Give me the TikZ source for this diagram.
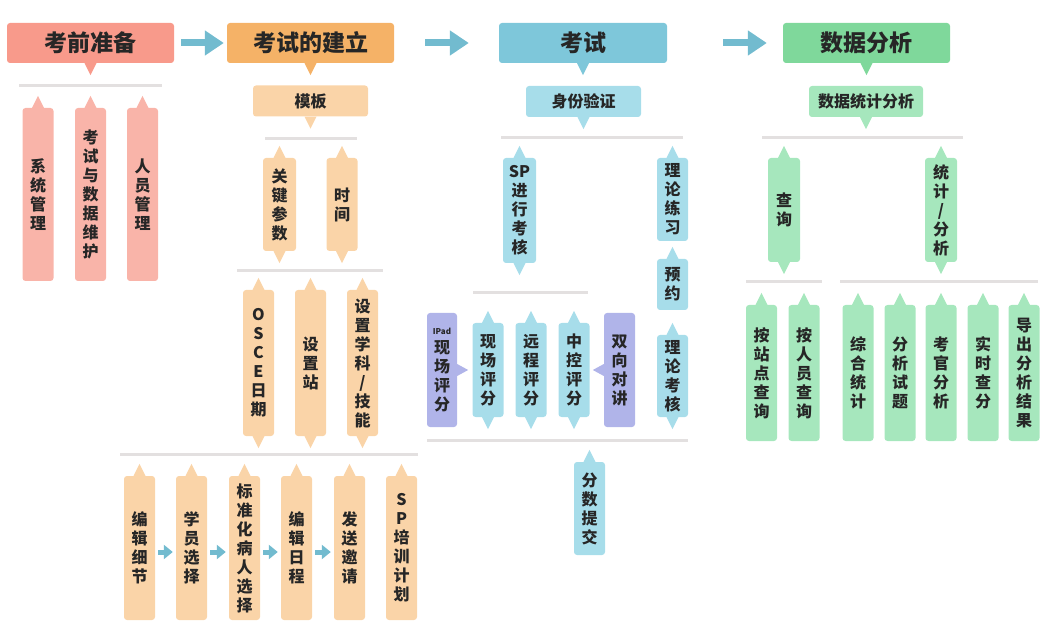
\documentclass[tikz,border=0pt]{standalone}
\usepackage{fontspec}
\setmainfont{Noto Sans CJK SC}
\usepackage{tikz}
\usetikzlibrary{arrows.meta}
\definecolor{redhead}{HTML}{F89A8B}
\definecolor{redbox}{HTML}{F9B4A9}
\definecolor{orangehead}{HTML}{F5B267}
\definecolor{orangebox}{HTML}{FAD4A8}
\definecolor{bluehead}{HTML}{7EC7DA}
\definecolor{bluebox}{HTML}{A7DDEA}
\definecolor{purplebox}{HTML}{B0B4E9}
\definecolor{greenhead}{HTML}{7FD89B}
\definecolor{greenbox}{HTML}{A6E7BD}
\definecolor{linegray}{HTML}{E3E0E0}
\definecolor{arrowblue}{HTML}{72BBCF}

\newcommand{\tipup}[2]{\fill[#2] ([xshift=-6pt]#1.north) -- ([yshift=12pt]#1.north) -- ([xshift=6pt]#1.north) -- cycle;}
\newcommand{\tipdown}[2]{\fill[#2] ([xshift=-6pt]#1.south) -- ([yshift=-12pt]#1.south) -- ([xshift=6pt]#1.south) -- cycle;}
\newcommand{\tipleft}[2]{\fill[#2] ([yshift=6pt]#1.west) -- ([xshift=-11pt]#1.west) -- ([yshift=-6pt]#1.west) -- cycle;}
\newcommand{\tipright}[2]{\fill[#2] ([yshift=6pt]#1.east) -- ([xshift=11pt]#1.east) -- ([yshift=-6pt]#1.east) -- cycle;}

\tikzset{
  box/.style={rounded corners=3pt, inner sep=0pt, align=center, text=black!85,
    font=\bfseries\fontsize{16}{19}\selectfont},
  head/.style={box, minimum width=167pt, minimum height=40pt,
    font=\bfseries\fontsize{23}{26}\selectfont},
  sub/.style={box, minimum width=115pt, minimum height=31pt},
  vbox/.style={box, minimum width=31pt},
  gline/.style={linegray, line width=3pt},
  bigarrow/.style={arrowblue, line width=7pt, -{Triangle[width=24pt,length=19pt]}},
  smallarrow/.style={arrowblue, line width=5pt, -{Triangle[width=14pt,length=9pt]}},
}

\begin{document}
\begin{tikzpicture}[x=1pt,y=-1pt]
\useasboundingbox (0,0) rectangle (1047,636);

% headers
\node[head, fill=redhead] (kqzb) at (90.5,43) {考前准备};
\node[head, fill=orangehead] (ksjl) at (310.5,43) {考试的建立};
\node[head, fill=bluehead, minimum width=168pt] (ks) at (583,43) {考试};
\node[head, fill=greenhead] (sjfx) at (866.5,43) {数据分析};
\draw[bigarrow] ([xshift=7pt]kqzb.east) -- ([xshift=-3pt]ksjl.west);
\draw[bigarrow] ([xshift=31pt]ksjl.east) -- ([xshift=-30pt]ks.west);
\draw[bigarrow] ([xshift=56pt]ks.east) -- ([xshift=-16pt]sjfx.west);
\foreach \n/\c in {kqzb/redhead, ksjl/orangehead, ks/bluehead, sjfx/greenhead}
  \tipdown{\n}{\c};

% 考前准备
\draw[gline] (19,86) -- (162,86);
\node[vbox, fill=redbox, minimum height=173pt] (xtgl) at (38,194.5) {系\\统\\管\\理};
\node[vbox, fill=redbox, minimum height=173pt] (sjwh) at (90.5,194.5) {考\\试\\与\\数\\据\\维\\护};
\node[vbox, fill=redbox, minimum height=173pt] (rygl) at (142.5,194.5) {人\\员\\管\\理};
\foreach \n in {xtgl, sjwh, rygl}
  \tipup{\n}{redbox};

% 考试的建立
\node[sub, fill=orangebox] (mb) at (310.5,101) {模板};
\tipdown{mb}{orangebox};
\draw[gline] (265,139) -- (357,139);
\node[vbox, fill=orangebox, minimum width=33pt, minimum height=93pt] (gjcs) at (279.5,204.5) {关\\键\\参\\数};
\node[vbox, fill=orangebox, minimum height=93pt] (sj) at (342,204.5) {时\\间};
\draw[gline] (237,271) -- (383,271);
\node[vbox, fill=orangebox, minimum height=146pt] (osce) at (258.5,363) {O\\S\\C\\E\\日\\期};
\node[vbox, fill=orangebox, minimum height=146pt] (szz) at (310.5,363) {设\\置\\站};
\node[vbox, fill=orangebox, minimum height=146pt] (szxk) at (362.5,363) {设\\置\\学\\科\\/\\技\\能};
\foreach \n in {gjcs, sj, osce, szz, szxk} {
  \tipup{\n}{orangebox};
  \tipdown{\n}{orangebox};
}
\draw[gline] (120,454) -- (418,454);
\node[vbox, fill=orangebox, minimum height=144pt] (bjxj) at (139.5,548) {编\\辑\\细\\节};
\node[vbox, fill=orangebox, minimum height=144pt] (xyxz) at (191.5,548) {学\\员\\选\\择};
\node[vbox, fill=orangebox, minimum height=144pt] (brxz) at (244.5,548) {标\\准\\化\\病\\人\\选\\择};
\node[vbox, fill=orangebox, minimum height=144pt] (bjrc) at (296.5,548) {编\\辑\\日\\程};
\node[vbox, fill=orangebox, minimum height=144pt] (fsyq) at (349.5,548) {发\\送\\邀\\请};
\node[vbox, fill=orangebox, minimum height=144pt] (sppx) at (401.5,548) {S\\P\\培\\训\\计\\划};
\foreach \n in {bjxj, xyxz, brxz, bjrc, fsyq, sppx}
  \tipup{\n}{orangebox};
\foreach \a/\b in {bjxj/xyxz, xyxz/brxz, brxz/bjrc, bjrc/fsyq}
  \draw[smallarrow] ([xshift=3pt,yshift=-4pt]\a.east) -- ([xshift=-3pt,yshift=-4pt]\b.west);

% 考试
\node[sub, fill=bluebox] (sfyz) at (583.5,101.5) {身份验证};
\tipdown{sfyz}{bluebox};
\draw[gline] (501,138) -- (683,138);
\node[vbox, fill=bluebox, minimum width=33pt, minimum height=105pt] (spkh) at (519.5,210.5) {SP\\进\\行\\考\\核};
\node[vbox, fill=bluebox, minimum height=83pt] (lllx) at (672.5,199.5) {理\\论\\练\\习};
\node[vbox, fill=bluebox, minimum height=51pt] (yy) at (672.5,284.5) {预\\约};
\node[vbox, fill=bluebox, minimum height=82pt] (llkh) at (672.5,376) {理\\论\\考\\核};
\draw[gline] (473,293) -- (588,293);
\node[vbox, fill=bluebox, minimum height=94pt] (xcpf) at (488,370) {现\\场\\评\\分};
\node[vbox, fill=bluebox, minimum height=94pt] (ycpf) at (531,370) {远\\程\\评\\分};
\node[vbox, fill=bluebox, minimum height=94pt] (zkpf) at (574,370) {中\\控\\评\\分};
\node[vbox, fill=purplebox, minimum width=30pt, minimum height=114pt] (ipad) at (442,370) {{\fontsize{8}{12}\selectfont IPad}\\现\\场\\评\\分};
\node[vbox, fill=purplebox, minimum height=114pt] (sxdj) at (619.5,370) {双\\向\\对\\讲};
\tipright{ipad}{purplebox};
\tipleft{sxdj}{purplebox};
\foreach \n in {spkh, llkh, xcpf, ycpf, zkpf} {
  \tipup{\n}{bluebox};
  \tipdown{\n}{bluebox};
}
\foreach \n in {lllx, yy}
  \tipup{\n}{bluebox};
\draw[gline] (427,440) -- (688,440);
\node[vbox, fill=bluebox, minimum height=93pt] (fstj) at (589.5,508.5) {分\\数\\提\\交};
\tipup{fstj}{bluebox};

% 数据分析
\node[sub, fill=greenbox, minimum width=114pt] (tjfx) at (866,101.5) {数据统计分析};
\tipdown{tjfx}{greenbox};
\draw[gline] (762,138) -- (963,138);
\node[vbox, fill=greenbox, minimum width=32pt, minimum height=104pt] (cx) at (784,210) {查\\询};
\node[vbox, fill=greenbox, minimum width=32pt, minimum height=104pt] (tj) at (941,210) {统\\计\\/\\分\\析};
\foreach \n in {cx, tj} {
  \tipup{\n}{greenbox};
  \tipdown{\n}{greenbox};
}
\draw[gline] (746,282) -- (822,282);
\draw[gline] (840,282) -- (1038,282);
\node[vbox, fill=greenbox, minimum height=136pt] (azd) at (761.5,373) {按\\站\\点\\查\\询};
\node[vbox, fill=greenbox, minimum height=136pt] (ary) at (804,373) {按\\人\\员\\查\\询};
\node[vbox, fill=greenbox, minimum height=136pt] (zhtj) at (858,373) {综\\合\\统\\计};
\node[vbox, fill=greenbox, minimum height=136pt] (fxst) at (900,373) {分\\析\\试\\题};
\node[vbox, fill=greenbox, minimum height=136pt] (kgfx) at (941,373) {考\\官\\分\\析};
\node[vbox, fill=greenbox, minimum height=136pt] (sscf) at (983,373) {实\\时\\查\\分};
\node[vbox, fill=greenbox, minimum height=136pt] (dcjg) at (1024,373) {导\\出\\分\\析\\结\\果};
\foreach \n in {azd, ary, zhtj, fxst, kgfx, sscf, dcjg}
  \tipup{\n}{greenbox};
\end{tikzpicture}
\end{document}
